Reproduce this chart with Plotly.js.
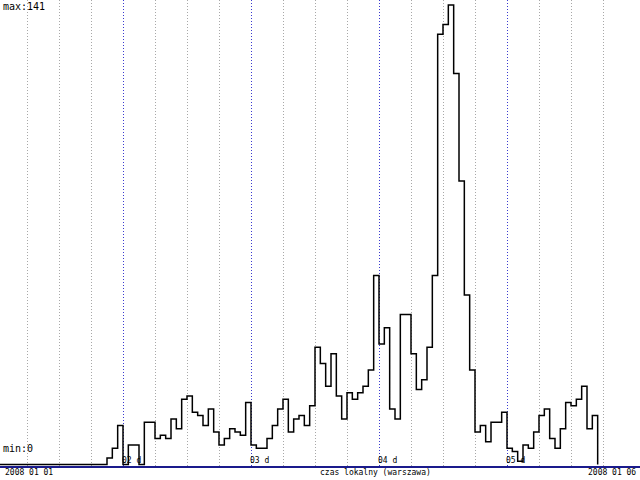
<!DOCTYPE html>
<html>
<head>
<meta charset="utf-8">
<script src="https://cdn.plot.ly/plotly-3.0.1.min.js"></script>
<style>html,body{margin:0;padding:0;background:#fff;}#chart{width:640px;height:480px;}</style>
</head>
<body>
<div id="chart"></div>
<script>
// hourly values starting 2008-01-01 00:00 (hour index)
var hourValues = [
  0,0,0,0,0,0,0,0,0,0,0,0,0,0,0,0,0,0,0,0,0,
  2,5,12,
  0,6,6,0,13,13,8,9,8,14,11,20,21,16,15,12,17,10,6,8,11,10,9,19,
  6,5,5,8,12,17,20,10,14,15,12,18,36,31,24,34,21,14,22,20,22,24,29,58,
  37,42,17,14,46,46,34,23,26,36,58,132,135,141,120,87,52,29,10,12,7,13,13,16,
  5,4,1,6,5,10,15,17,8,5,11,19,18,20,24,11,15,
  0
];
var hours = hourValues.map(function(v, i){ return i; });
var dayTickHours = [24, 48, 72, 96];
var dayLabels = ['02 d', '03 d', '04 d', '05 d'];
var maxLabel = 'max:141';
var minLabel = 'min:0';
var startLabel = '2008 01 01';
var endLabel = '2008 01 06';
var axisLabel = 'czas lokalny (warszawa)';

// 6-hour grid positions (not on day boundaries), inside the visible span
var sixHourTicks = [];
for (var h = 6; h < 120; h += 6) { if (h % 24 !== 0) sixHourTicks.push(h); }

var mono = 'DejaVu Sans Mono, Liberation Mono, monospace';
var navy = '#1a1a8c';

var annotations = [];
dayTickHours.forEach(function(h, i){
  annotations.push({x: h, xref: 'x', y: 0, yref: 'paper', yanchor: 'bottom', xanchor: 'left',
    text: dayLabels[i], showarrow: false, font: {family: mono, size: 8, color: '#000'},
    xshift: -2, yshift: 0, borderpad: 0});
});
annotations.push({x: 0, xref: 'paper', y: 1, yref: 'paper', xanchor: 'left', yanchor: 'top',
  text: maxLabel, showarrow: false, font: {family: mono, size: 10, color: '#000'}, xshift: 2, yshift: 0, borderpad: 0});
annotations.push({x: 0, xref: 'paper', y: 0, yref: 'paper', xanchor: 'left', yanchor: 'bottom',
  text: minLabel, showarrow: false, font: {family: mono, size: 10, color: '#000'}, xshift: 2, yshift: 11, borderpad: 0});
annotations.push({x: 0, xref: 'paper', y: 0, yref: 'paper', xanchor: 'left', yanchor: 'top',
  text: startLabel, showarrow: false, font: {family: mono, size: 8, color: '#000'}, xshift: 4, yshift: -1, borderpad: 0});
annotations.push({x: 375/640, xref: 'paper', y: 0, yref: 'paper', xanchor: 'center', yanchor: 'top',
  text: axisLabel, showarrow: false, font: {family: mono, size: 8, color: '#000'}, yshift: -1, borderpad: 0});
annotations.push({x: 1, xref: 'paper', y: 0, yref: 'paper', xanchor: 'right', yanchor: 'top',
  text: endLabel, showarrow: false, font: {family: mono, size: 8, color: '#000'}, xshift: -3, yshift: -1, borderpad: 0});

var trace = {
  x: hours, y: hourValues, type: 'scatter', mode: 'lines',
  line: {shape: 'hv', color: '#000', width: 1.5},
  hoverinfo: 'skip', showlegend: false
};

var layout = {
  width: 640, height: 480,
  margin: {l: 0, r: 0, t: 0, b: 14, pad: 0},
  paper_bgcolor: '#fff', plot_bgcolor: '#fff',
  showlegend: false,
  xaxis: {
    range: [0.9375, 120.9375], tickmode: 'array', tickvals: dayTickHours,
    showgrid: true, gridcolor: '#3a3ad0', griddash: '1px,2px', gridwidth: 1,
    minor: {tickmode: 'array', tickvals: sixHourTicks, showgrid: true, gridcolor: '#a8a8a8', griddash: '1px,2px', gridwidth: 1, ticks: ''},
    showticklabels: false, ticks: '', zeroline: false,
    showline: true, linecolor: navy, linewidth: 1.5, fixedrange: true
  },
  yaxis: {
    range: [-0.46, 142.534], showgrid: false, zeroline: false,
    showticklabels: false, ticks: '', showline: true, linecolor: navy, linewidth: 2, fixedrange: true
  },
  annotations: annotations
};

Plotly.newPlot('chart', [trace], layout, {staticPlot: true, displayModeBar: false});
</script>
</body>
</html>
